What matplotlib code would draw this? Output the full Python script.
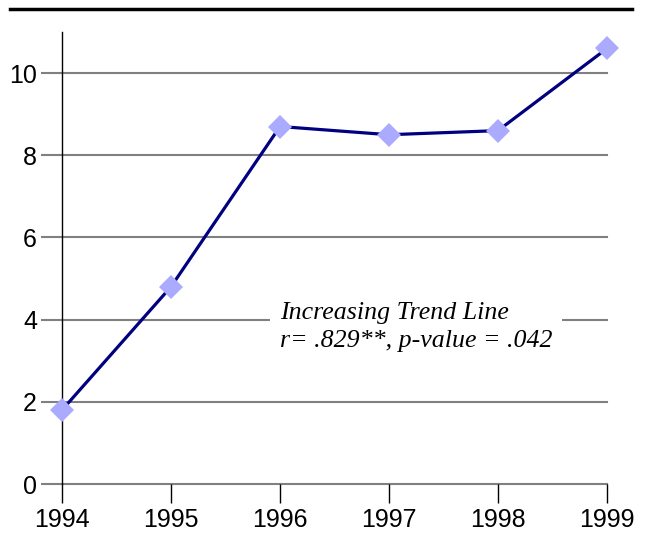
import matplotlib
matplotlib.use("Agg")
import matplotlib.pyplot as plt
from matplotlib.lines import Line2D

years = [1994, 1995, 1996, 1997, 1998, 1999]
values = [1.8, 4.8, 8.7, 8.5, 8.6, 10.6]
yticks = [0, 2, 4, 6, 8, 10]
note_lines = ["Increasing Trend Line", "r= .829**, p-value = .042"]

W, H = 646, 535
fig = plt.figure(figsize=(W/100, H/100), dpi=100)
ax = fig.add_axes([62/W, (H-484)/H, (607-62)/W, (484-32)/H])

ax.set_xlim(1994, 1999)
ax.set_ylim(0, 11)
for y in yticks:
    ax.axhline(y, color="#808080", lw=1.5, zorder=1, clip_on=False)

ax.plot(years, values, color="#000080", lw=2.3, zorder=3, clip_on=False)
ax.plot(years, values, ls="none", marker="D", ms=12.5, color="#AAAAFF",
        markeredgewidth=0, zorder=4, clip_on=False)

for s in ["top", "right", "bottom"]:
    ax.spines[s].set_visible(False)
ax.spines["left"].set_color("black")
ax.spines["left"].set_linewidth(1.0)

ax.set_xticks(years)
ax.set_xticklabels([str(y) for y in years])
ax.set_yticks(yticks)
ax.set_yticklabels([str(y) for y in yticks])
ax.tick_params(axis="x", length=14, width=1, color="black", direction="out",
               labelsize=18, pad=3)
ax.tick_params(axis="y", length=15, width=1.5, color="#808080", direction="out",
               labelsize=18, pad=3)
for lab in ax.get_xticklabels() + ax.get_yticklabels():
    lab.set_fontfamily("Liberation Sans")

ax.text(1996.0, 3.82, "\n".join(note_lines),
        fontsize=18.6, fontstyle="italic", family="Liberation Serif",
        ha="left", va="center", linespacing=1.3, zorder=5,
        bbox=dict(facecolor="white", edgecolor="none", pad=7))

fig.add_artist(Line2D([10/W, 632/W], [(H-9)/H, (H-9)/H], color="black",
                      lw=2.5, transform=fig.transFigure))

fig.savefig("out.png", dpi=100)
